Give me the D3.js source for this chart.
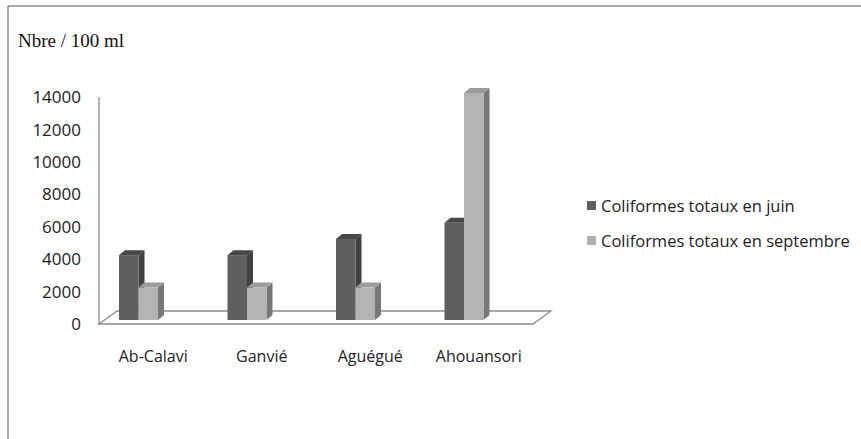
<!DOCTYPE html>
<html>
<head>
<meta charset="utf-8">
<script src="https://cdn.jsdelivr.net/npm/d3@7/dist/d3.min.js"></script>
<style>
  html, body { margin: 0; padding: 0; background: #fff; }
  svg { display: block; }
</style>
</head>
<body>
<svg id="chart" width="861" height="439"></svg>
<script>
// Sites sampled and coliform counts (Nbre / 100 ml)
const categories = ["Ab-Calavi", "Ganvié", "Aguégué", "Ahouansori"];
const seriesNames = ["Coliformes totaux en juin", "Coliformes totaux en septembre"];
const juin = [4000, 4000, 5000, 6000];
const septembre = [2000, 2000, 2000, 14000];
const yTicks = [0, 2000, 4000, 6000, 8000, 10000, 12000, 14000];
const yTitle = "Nbre / 100 ml";

const seriesValues = [juin, septembre];
const palette = [
  { front: "#5f5f5f", side: "#404040", top: "#474747", key: "#606060" },
  { front: "#b3b3b3", side: "#777777", top: "#9c9c9c", key: "#b0b0b0" }
];

const svg = d3.select("#chart");
const W = 861, H = 439;

// outer frame (top and left edges visible)
svg.append("line").attr("x1", 8).attr("y1", 6).attr("x2", W).attr("y2", 6)
  .attr("stroke", "#8a8a8a").attr("stroke-width", 1.5);
svg.append("line").attr("x1", 8).attr("y1", 6).attr("x2", 8).attr("y2", H)
  .attr("stroke", "#8a8a8a").attr("stroke-width", 1.5);

// axis title
svg.append("text").attr("x", 18).attr("y", 47)
  .attr("font-family", "'Liberation Serif', 'Times New Roman', serif")
  .attr("font-size", 19).attr("fill", "#111").text(yTitle);

// scales
const left = 99, right = 533, base = 324;
const depth = { dx: 18, dy: -13 };   // floor depth
const barDepth = { dx: 6, dy: -5 };  // column depth
const barShift = { dx: 0, dy: -4 };  // columns sit slightly back on the floor

const y = d3.scaleLinear().domain([0, 14000]).range([base, 97]);
const x0 = d3.scaleBand().domain(categories).range([left, right]).padding(0);
const x1 = d3.scaleBand().domain(seriesNames).range([20, 59]).padding(0);

// floor
const floor = [
  [left, base], [right, base],
  [right + depth.dx, base + depth.dy], [left + depth.dx, base + depth.dy]
];
svg.append("polygon")
  .attr("points", floor.map(p => p.join(",")).join(" "))
  .attr("fill", "#fff").attr("stroke", "#8c8c8c").attr("stroke-width", 1.3);

// vertical axis line
svg.append("line").attr("x1", left).attr("x2", left)
  .attr("y1", y(14000)).attr("y2", base)
  .attr("stroke", "#8c8c8c").attr("stroke-width", 1.3);

// tick labels
svg.append("g").selectAll("text").data(yTicks).join("text")
  .attr("x", 81).attr("y", d => y(d))
  .attr("dy", "0.36em").attr("text-anchor", "end")
  .attr("font-family", "'Open Sans', sans-serif").attr("font-size", 17)
  .attr("fill", "#222").text(d => d);

// 3D columns
const bars = [];
categories.forEach((c, i) => {
  seriesNames.forEach((s, j) => {
    bars.push({ c, s, j, v: seriesValues[j][i] });
  });
});

const g = svg.append("g");
bars.forEach(b => {
  const xl = x0(b.c) + x1(b.s) + barShift.dx;
  const xr = xl + x1.bandwidth();
  const yb = y(0) + barShift.dy;
  const yt = y(b.v) + barShift.dy;
  const col = palette[b.j];
  const dx = barDepth.dx, dy = barDepth.dy;
  // side face
  g.append("polygon")
    .attr("points", [[xr, yb], [xr + dx, yb + dy], [xr + dx, yt + dy], [xr, yt]].map(p => p.join(",")).join(" "))
    .attr("fill", col.side);
  // top face
  g.append("polygon")
    .attr("points", [[xl, yt], [xr, yt], [xr + dx, yt + dy], [xl + dx, yt + dy]].map(p => p.join(",")).join(" "))
    .attr("fill", col.top);
  // front face
  g.append("rect").attr("x", xl).attr("y", yt)
    .attr("width", xr - xl).attr("height", yb - yt)
    .attr("fill", col.front);
});

// category labels
svg.append("g").selectAll("text").data(categories).join("text")
  .attr("x", d => x0(d) + x0.bandwidth() / 2)
  .attr("y", 362).attr("text-anchor", "middle")
  .attr("font-family", "'Open Sans', sans-serif").attr("font-size", 16)
  .attr("fill", "#222").text(d => d);

// legend
const legend = svg.append("g").attr("transform", "translate(587,201)");
seriesNames.forEach((s, j) => {
  const row = legend.append("g").attr("transform", `translate(0,${j * 35})`);
  row.append("rect").attr("x", 0).attr("y", 0).attr("width", 9).attr("height", 9)
    .attr("fill", palette[j].key);
  row.append("text").attr("x", 14).attr("y", 11)
    .attr("font-family", "'Open Sans', sans-serif").attr("font-size", 16.5)
    .attr("fill", "#222").text(s);
});
</script>
</body>
</html>
